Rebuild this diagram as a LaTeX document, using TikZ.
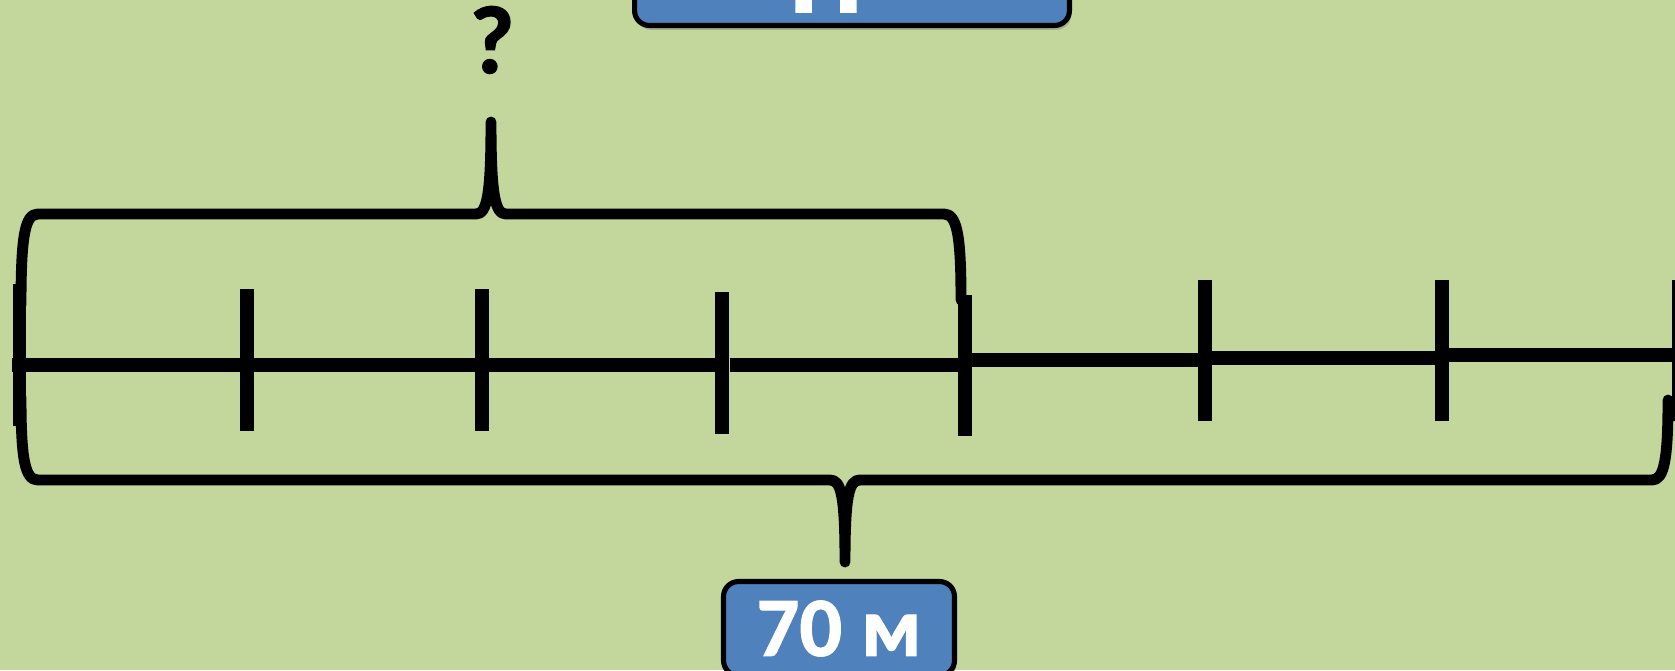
\documentclass[tikz,border=0pt]{standalone}
\usepackage{fontspec}
\setmainfont{Carlito}
\newfontfamily\heavyfont[FakeBold=1.3]{Carlito Bold}
\usetikzlibrary{shadows}
\definecolor{bggreen}{HTML}{C3D69B}
\definecolor{boxblue}{HTML}{4F81BD}
\tikzset{
  seg/.style={line width=7.6pt},
  tickmark/.style={line width=7.9pt},
  brace/.style={line width=6.2pt, line cap=round, line join=round},
  tagbox/.style={draw, line width=2.9pt, fill=boxblue, rounded corners=8.5pt, inner sep=0pt, outer sep=0pt,
    drop shadow={opacity=0.45, shadow xshift=1pt, shadow yshift=-2.5pt},
    text=white, font=\heavyfont\fontsize{48}{50}\selectfont}
}

\begin{document}
\begin{tikzpicture}[x=0.02cm, y=-0.02cm]
  \useasboundingbox (0,0) rectangle (1675,670);
  \fill[bggreen] (0,0) rectangle (1675,670); % background
  \clip (0,0) rectangle (1675,670);

  % top label, cut by the frame
  \node[tagbox, anchor=south, minimum width=8.7cm, minimum height=2cm] (topbox) at (852,25.5) {};
  \node[anchor=base, inner sep=0pt, text=white, font=\heavyfont\fontsize{66}{70}\selectfont] (toptext) at (826,12) {П};

  % the strip
  \draw[seg] (12,365) -- (722,365);
  \draw[seg] (730,365) -- (965,365);
  \draw[seg] (965,360) -- (1205,360);
  \draw[seg] (1205,358) -- (1442,358);
  \draw[seg] (1449,355) -- (1680,355);

  % tick marks
  \foreach \x/\t/\b in {19.5/284/426, 247/289/431, 482/289/431, 722/292/434,
                        965/295/436, 1205/280/421, 1442/280/421, 1679/280/421}
    \draw[tickmark] (\x,\t) -- (\x,\b);

  % upper brace: four parts
  \draw[brace] (21,305) .. controls (21,235) and (25,214) .. (38,214) -- (476,214)
    .. controls (487,214) and (491,195) .. (491,122)
    .. controls (491,195) and (495,214) .. (506,214) -- (944,214)
    .. controls (957,214) and (961,235) .. (961,300);
  \node[anchor=base, inner sep=0pt, font=\heavyfont\fontsize{55}{58}\selectfont] (qmark) at (492,73) {?};

  % lower brace: the whole strip
  \draw[brace] (21,397) .. controls (21,460) and (25,480) .. (38,480) -- (830,480)
    .. controls (841,480) and (845,495) .. (845,562)
    .. controls (845,495) and (849,480) .. (860,480) -- (1652,480)
    .. controls (1664,480) and (1668,460) .. (1668,400);
  \node[tagbox, minimum width=4.62cm, minimum height=1.88cm] (total) at (839,628.5) {70 м};
\end{tikzpicture}
\end{document}
